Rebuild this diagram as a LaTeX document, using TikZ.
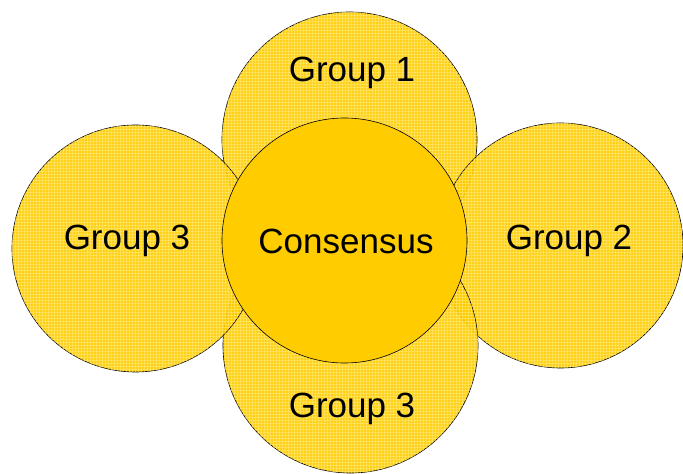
\documentclass[tikz,border=0pt]{standalone}
\usepackage{fontspec}
\setmainfont{Liberation Sans}
\usetikzlibrary{patterns}
\definecolor{gold}{HTML}{FFCC00}
\definecolor{gridc}{HTML}{FFEE90}
\begin{document}
\begin{tikzpicture}[x=1pt,y=1pt,
  outer/.style={circle,draw=black,line width=0.6pt,inner sep=0pt,fill=gold,fill opacity=0.9,draw opacity=1},
  gridover/.style={circle,inner sep=0pt,pattern=grid,pattern color=gridc,opacity=0.45},
  core/.style={circle,draw=black,line width=0.6pt,fill=gold,inner sep=0pt},
  lbl/.style={font=\fontsize{35}{40}\selectfont,text=black,inner sep=0pt}]
\useasboundingbox (0,0) rectangle (683,474);
\node[outer,minimum size=255pt] (top) at (349.5,334.5) {};
\node[gridover,minimum size=255pt] at (top.center) {};
\node[outer,minimum size=245pt] (right) at (560.5,228.5) {};
\node[gridover,minimum size=245pt] at (right.center) {};
\node[outer,minimum size=255pt] (bottom) at (350.5,128.5) {};
\node[gridover,minimum size=255pt] at (bottom.center) {};
\node[outer,minimum size=247pt] (left) at (135.5,225.5) {};
\node[gridover,minimum size=247pt] at (left.center) {};
\node[core,minimum size=245pt] (center) at (344.5,233.5) {};
\node[lbl] (t1) at (352,401) {Group 1};
\node[lbl] (t2) at (569,233) {Group 2};
\node[lbl] (t3) at (127,233) {Group 3};
\node[lbl] (t4) at (352,65) {Group 3};
\node[lbl] (tc) at (346,233) {Consensus};
\end{tikzpicture}
\end{document}
